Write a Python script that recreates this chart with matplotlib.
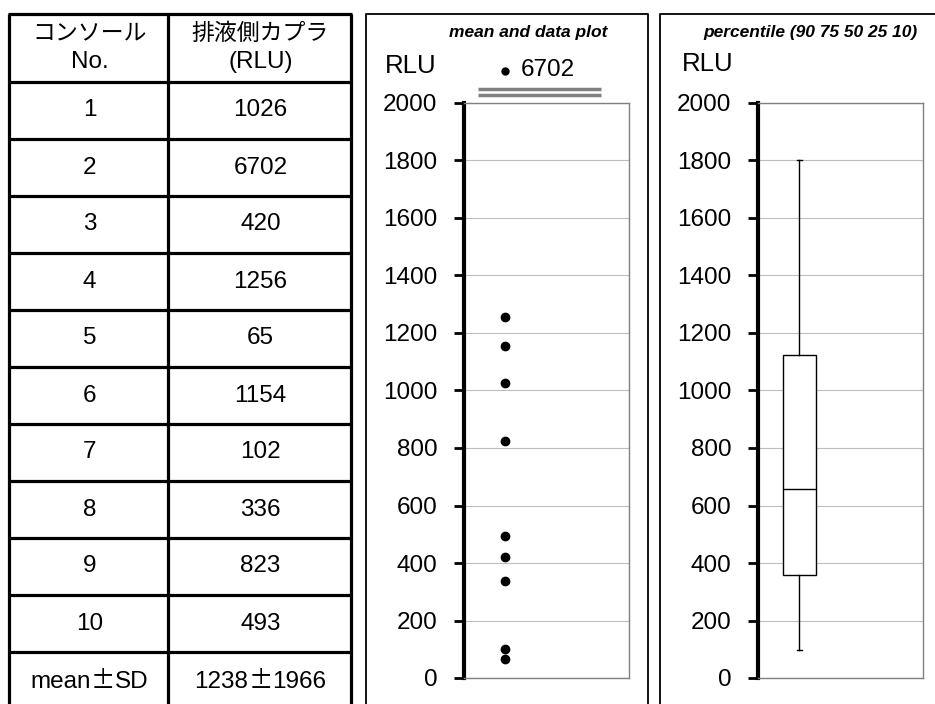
import numpy as np
import matplotlib
matplotlib.use("Agg")
import matplotlib.pyplot as plt
from matplotlib.transforms import blended_transform_factory
from matplotlib.offsetbox import TextArea, HPacker, AnnotationBbox

########################################################
# DATA
########################################################

CONSOLES = ["1", "2", "3", "4", "5", "6", "7", "8", "9", "10"]
RLU = [1026, 6702, 420, 1256, 65, 1154, 102, 336, 823, 493]

HEADER_COL1 = ["コンソール", "No."]
HEADER_COL2 = ["排液側カプラ", "(RLU)"]
SUMMARY_LABEL = ("mean", "SD")

Y_TICKS = [0, 200, 400, 600, 800, 1000, 1200, 1400, 1600, 1800, 2000]
PERCENTILES = [10, 25, 50, 75, 90]

########################################################
# SETTINGS
########################################################

plt.rcParams["font.family"] = ["Liberation Sans", "Noto Sans CJK JP"]

W, H = 935, 704
Y_MAX = 2000
FS = 17.5

fig = plt.figure(figsize=(W / 100, H / 100), dpi=100)

# background axes in pixel units for the table and panel frames
bg = fig.add_axes([0, 0, 1, 1])
bg.set_xlim(0, W)
bg.set_ylim(H, 0)
bg.axis("off")


def px_axes(left, top, right, bottom):
    return fig.add_axes([
        left / W,
        1 - bottom / H,
        (right - left) / W,
        (bottom - top) / H
    ])


def pm_text(x, y, left, right):
    # latin parts in Liberation, the wide plus-minus from the CJK font
    latin = dict(fontsize=FS, family="Liberation Sans")
    wide = dict(fontsize=FS, family="Noto Sans CJK JP")
    box = HPacker(
        children=[
            TextArea(left, textprops=latin),
            TextArea("±", textprops=wide),
            TextArea(right, textprops=latin)
        ],
        sep=0,
        pad=0,
        align="baseline"
    )
    ab = AnnotationBbox(box, (x, y), xycoords="data", frameon=False,
                        box_alignment=(0.5, 0.5), pad=0)
    bg.add_artist(ab)


########################################################
# TABLE
########################################################

col_x = [9, 168, 351]
row_y = [14, 82] + [82 + 57 * (k + 1) for k in range(11)]

for x in col_x:
    bg.plot([x, x], [row_y[0], row_y[-1]], color="black", lw=2.3,
            solid_capstyle="butt")
for y in row_y:
    bg.plot([col_x[0] - 1, col_x[-1] + 1], [y, y], color="black", lw=2.3,
            solid_capstyle="butt")

c1 = (col_x[0] + col_x[1]) / 2 + 1
c2 = (col_x[1] + col_x[2]) / 2 + 1

bg.text(c1, 33, HEADER_COL1[0], ha="center", va="center", fontsize=16.5)
bg.text(c1, 62, HEADER_COL1[1], ha="center", va="center", fontsize=FS)
bg.text(c2, 33, HEADER_COL2[0], ha="center", va="center", fontsize=16.5)
bg.text(c2, 62, HEADER_COL2[1], ha="center", va="center", fontsize=FS)

mean = np.mean(RLU)
sd = np.std(RLU, ddof=1)

for i, (a, b) in enumerate(zip(CONSOLES, RLU)):
    yc = row_y[i + 1] + 28.5
    bg.text(c1, yc, a, ha="center", va="center", fontsize=FS)
    bg.text(c2, yc, str(b), ha="center", va="center", fontsize=FS)

yc = row_y[-2] + 28.5
pm_text(c1, yc, SUMMARY_LABEL[0], SUMMARY_LABEL[1])
pm_text(c2, yc, f"{mean:.0f}", f"{sd:.0f}")

########################################################
# PANEL FRAMES
########################################################

for left, right in [(366, 648), (660, 940)]:
    bg.plot([left, left, right, right], [H + 5, 14, 14, H + 5],
            color="black", lw=1.3)


def style_axes(ax):
    ax.set_ylim(0, Y_MAX)
    ax.set_xlim(0, 4)
    ax.set_yticks(Y_TICKS)
    ax.set_xticks([])
    ax.tick_params(axis="y", direction="out", length=7, width=2,
                   pad=12, labelsize=FS)
    for s in ["top", "right", "bottom"]:
        ax.spines[s].set_color("#808080")
        ax.spines[s].set_linewidth(1)
    ax.spines["left"].set_linewidth(3)
    ax.spines["left"].set_color("black")
    ax.yaxis.grid(True, color="#bdbdbd", lw=0.8)
    ax.set_axisbelow(True)


########################################################
# MEAN AND DATA PLOT
########################################################

ax1 = px_axes(464, 103, 629, 678)
style_axes(ax1)

in_range = [v for v in RLU if v <= Y_MAX]
off_range = [v for v in RLU if v > Y_MAX]

ax1.plot([1] * len(in_range), in_range, "o", color="black",
         markersize=6, clip_on=False, zorder=3)

trans = blended_transform_factory(ax1.transData, ax1.transAxes)
for v in off_range:
    ax1.plot([1], [1.055], "o", color="black", markersize=5,
             transform=trans, clip_on=False)
    ax1.annotate(str(v), (1, 1.057), xycoords=trans,
                 xytext=(11, 0), textcoords="offset points",
                 ha="left", va="center", fontsize=FS)

# axis break marker above the plot area
for yb in [1.0139, 1.0243]:
    ax1.plot([0.085, 0.83], [yb, yb], color="#808080", lw=2.5,
             transform=ax1.transAxes, clip_on=False,
             solid_capstyle="butt")

bg.text(528, 32, "mean and data plot", ha="center", va="center",
        fontsize=12.5, fontweight="bold", fontstyle="italic")
bg.text(411, 66, "RLU", ha="center", va="center", fontsize=18.5)

########################################################
# PERCENTILE BOX PLOT
########################################################

ax2 = px_axes(758, 103, 923, 678)
style_axes(ax2)

p10, p25, p50, p75, p90 = np.percentile(RLU, PERCENTILES)

ax2.bxp(
    [{
        "whislo": p10,
        "q1": p25,
        "med": p50,
        "q3": p75,
        "whishi": p90,
        "fliers": []
    }],
    positions=[1],
    widths=0.8,
    showfliers=False,
    patch_artist=True,
    boxprops=dict(facecolor="white", edgecolor="black", linewidth=1),
    medianprops=dict(color="black", linewidth=1),
    whiskerprops=dict(color="black", linewidth=1),
    capprops=dict(color="black", linewidth=1),
    capwidths=0.12,
    manage_ticks=False
)

bg.text(810, 32, "percentile (90 75 50 25 10)", ha="center", va="center",
        fontsize=12.5, fontweight="bold", fontstyle="italic")
bg.text(708, 64, "RLU", ha="center", va="center", fontsize=18.5)

plt.savefig("out.png", dpi=100)
